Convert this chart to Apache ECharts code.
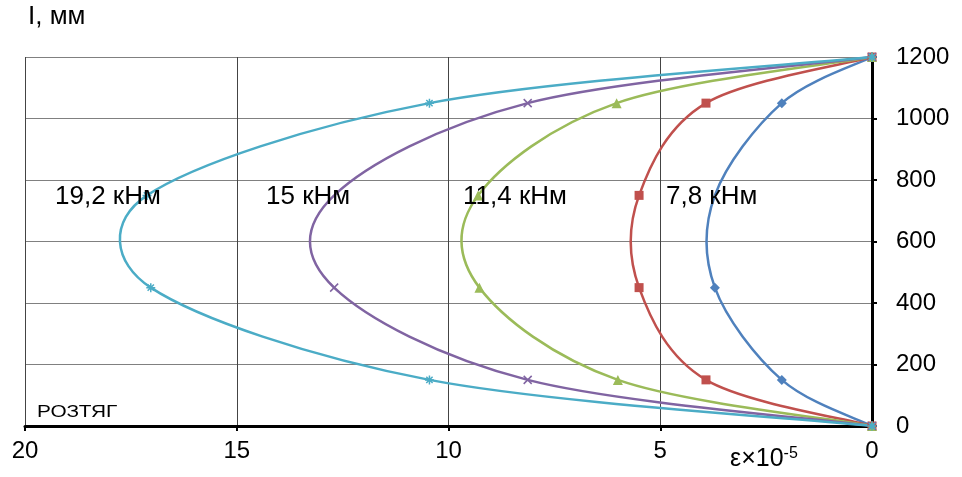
<!DOCTYPE html>
<html><head><meta charset="utf-8">
<script src="https://cdn.jsdelivr.net/npm/echarts@6/dist/echarts.min.js"></script>
<style>html,body{margin:0;padding:0;background:#fff}#c{width:962px;height:477px}</style>
</head><body><div id="c"></div>
<script>
// Height levels along the section, mm (marker positions)
var levels = [0, 150, 450, 750, 1050, 1200];
// Strain ε×10^-5 for each load level
var s78  = [0, 2.13, 3.71, 3.71, 2.13, 0];
var s114 = [0, 3.92, 5.50, 5.50, 3.92, 0];
var s15  = [0, 6.00, 9.27, 9.30, 6.03, 0];
var s192 = [0, 8.13, 12.70, 12.70, 8.13, 0];
var s_c  = [0, 10.45, 17.03, 17.12, 10.45, 0];
var xTicks = [0, 5, 10, 15, 20];
var yTicks = [0, 200, 400, 600, 800, 1000, 1200];
var curveLabels = ['19,2 кНм', '15 кНм', '11,4 кНм', '7,8 кНм'];

var FONT = 'Liberation Sans, Arial, sans-serif';
var asterisk = 'path://M5,0L5,10M0,5L10,5M1.5,1.5L8.5,8.5M8.5,1.5L1.5,8.5';
var cross = 'path://M0,0L10,10M10,0L0,10';

function pts(vals) { return vals.map(function (v, i) { return [v, levels[i]]; }); }

// Smooth curve (spline through the data points) drawn segment by segment in pixel space
function curve(name, vals, color) {
  var data = pts(vals);
  return {
    name: name, type: 'custom', clip: false, z: 2, silent: true,
    data: data,
    encode: { x: 0, y: 1 },
    renderItem: function (params, api) {
      var i = params.dataIndex, n = data.length;
      if (i >= n - 1) return null;
      var P = data.map(function (d) { return api.coord(d); });
      function tangent(j, forward) {
        var a = P[Math.max(j - 1, 0)], b = P[Math.min(j + 1, n - 1)];
        var vx = (b[0] - a[0]) / 6, vy = (b[1] - a[1]) / 6;
        var len = Math.sqrt(vx * vx + vy * vy) || 1;
        var o = forward ? P[Math.min(j + 1, n - 1)] : P[Math.max(j - 1, 0)];
        var d = Math.sqrt(Math.pow(o[0] - P[j][0], 2) + Math.pow(o[1] - P[j][1], 2));
        var k = Math.min(1, 0.5 * d / len);
        return [vx * k, vy * k];
      }
      var t0 = tangent(i, true), t1 = tangent(i + 1, false);
      return {
        type: 'bezierCurve',
        shape: {
          x1: P[i][0], y1: P[i][1], x2: P[i + 1][0], y2: P[i + 1][1],
          cpx1: P[i][0] + t0[0], cpy1: P[i][1] + t0[1],
          cpx2: P[i + 1][0] - t1[0], cpy2: P[i + 1][1] - t1[1]
        },
        style: { stroke: color, lineWidth: 2.5, fill: null }
      };
    }
  };
}

function markers(name, vals, color, symbol, size, hideIdx) {
  var isPath = symbol.indexOf('path') === 0;
  return {
    name: name, type: 'scatter', clip: false, z: 3, silent: true,
    data: pts(vals).map(function (p, i) {
      return (hideIdx || []).indexOf(i) >= 0 ? { value: p, symbol: 'none' } : { value: p };
    }),
    symbol: symbol, symbolSize: size,
    itemStyle: isPath ? { color: 'none', borderColor: color, borderWidth: 1.5, opacity: 1 }
                      : { color: color, opacity: 1 }
  };
}

var chart = echarts.init(document.getElementById('c'), null, { renderer: 'canvas' });
chart.setOption({
  animation: false,
  grid: { left: 25, right: 90, top: 57, bottom: 51, containLabel: false },
  xAxis: {
    type: 'value', inverse: true, min: 0, max: 20, interval: 5,
    axisLine: { show: true, onZero: false, lineStyle: { color: '#000', width: 3 } },
    axisTick: { show: true, length: 5, lineStyle: { color: '#000', width: 2 } },
    axisLabel: { color: '#000', fontSize: 24, fontFamily: FONT, margin: 13,
      formatter: function (v) { return xTicks.indexOf(v) >= 0 ? String(v) : ''; } },
    splitLine: { show: true, lineStyle: { color: '#444', width: 1 } }
  },
  yAxis: {
    type: 'value', position: 'right', min: 0, max: 1200, interval: 200,
    axisLine: { show: true, onZero: false, lineStyle: { color: '#000', width: 3 } },
    axisTick: { show: true, length: 5, lineStyle: { color: '#000', width: 2 } },
    axisLabel: { color: '#000', fontSize: 24, fontFamily: FONT, margin: 24,
      formatter: function (v) { return yTicks.indexOf(v) >= 0 ? String(v) : ''; } },
    splitLine: { show: true, lineStyle: { color: '#808080', width: 1 } }
  },
  series: [
    curve('7,8', s78, '#4F81BD'),
    curve('11,4', s114, '#C0504D'),
    curve('15', s15, '#9BBB59'),
    curve('19,2', s192, '#8064A2'),
    curve('c', s_c, '#4BACC6'),
    markers('m1', s78, '#4F81BD', 'diamond', 10, [3]),
    markers('m2', s114, '#C0504D', 'rect', 9),
    markers('m3', s15, '#9BBB59', 'triangle', 10),
    markers('m4', s192, '#8064A2', cross, 8, [3]),
    markers('m5', s_c, '#4BACC6', asterisk, 9)
  ],
  graphic: [
    { type: 'text', left: 28, top: 4, style: { text: 'I, мм', font: '26px ' + FONT, fill: '#000' } },
    { type: 'text', x: 37, y: 405, scaleX: 1.3, style: { text: 'РОЗТЯГ', font: '16px ' + FONT, fill: '#000' } },
    { type: 'text', left: 55, top: 184, z: 10, style: { text: curveLabels[0], font: '26px ' + FONT, fill: '#000' } },
    { type: 'text', left: 266, top: 184, z: 10, style: { text: curveLabels[1], font: '26px ' + FONT, fill: '#000' } },
    { type: 'text', left: 463, top: 184, z: 10, style: { text: curveLabels[2], font: '26px ' + FONT, fill: '#000' } },
    { type: 'text', left: 666, top: 184, z: 10, style: { text: curveLabels[3], font: '26px ' + FONT, fill: '#000' } },
    { type: 'text', left: 730, top: 446, style: {
        text: '{a|ε×10}{b|-5}',
        rich: { a: { font: '25px ' + FONT, fill: '#000' }, b: { font: '16px ' + FONT, fill: '#000', verticalAlign: 'top', padding: [0, 0, 11, 0] } } } }
  ]
});
</script></body></html>
